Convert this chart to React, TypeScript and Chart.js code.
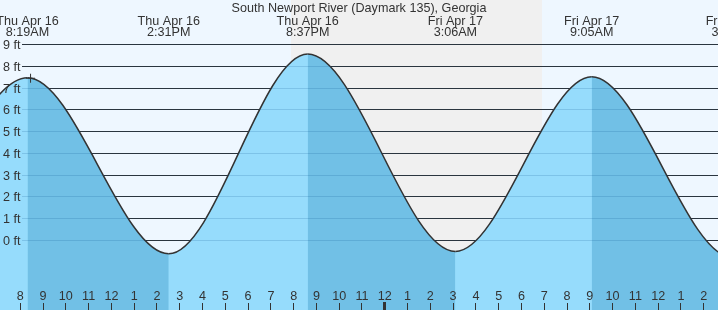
import React, { useEffect, useRef } from "react";
import { Chart, registerables } from "chart.js";

Chart.register(...registerables);

const W = 718;
const H = 310;

const TITLE = "South Newport River (Daymark 135), Georgia";

// Tide extremes, hours since Thu Apr 16 00:00 (first and last two are off-chart estimates)
const tideHours = [-4.2, 1.9, 8.317, 14.517, 20.617, 27.1, 33.083, 39.3, 45.5];
const tideFeet = [8.3, -0.45, 7.47, -0.61, 8.56, -0.5, 7.52, -0.8, 8.4];

// Labelled extremes along the top
const labelHours = [8.317, 14.517, 20.617, 27.1, 33.083, 39.3];
const labelDays = ["Thu Apr 16", "Thu Apr 16", "Thu Apr 16", "Fri Apr 17", "Fri Apr 17", "Fri Apr 17"];
const labelTimes = ["8:19AM", "2:31PM", "8:37PM", "3:06AM", "9:05AM", "3:18PM"];

// Current-time marker
const markerHours = [8.45];
const markerFeet = [7.45];

// Night (sunset Thu 7:52PM to sunrise Fri 6:53AM)
const nightStart = 19.87;
const nightEnd = 30.88;

// Axes
const yTickValues = [0, 1, 2, 3, 4, 5, 6, 7, 8, 9];
const yTickLabels = ["0 ft", "1 ft", "2 ft", "3 ft", "4 ft", "5 ft", "6 ft", "7 ft", "8 ft", "9 ft"];
const hourTickValues = [8, 9, 10, 11, 12, 13, 14, 15, 16, 17, 18, 19, 20, 21, 22, 23, 24, 25, 26, 27, 28, 29, 30, 31, 32, 33, 34, 35, 36, 37, 38];
const hourTickLabels = ["8", "9", "10", "11", "12", "1", "2", "3", "4", "5", "6", "7", "8", "9", "10", "11", "12", "1", "2", "3", "4", "5", "6", "7", "8", "9", "10", "11", "12", "1", "2"];
const midnightHours = [24];

const X_MIN = 7.1089;
const X_MAX = 38.628;
const Y_MIN = -3.191;
const Y_MAX = 11.042;

const DAY_BG = "#eef7ff";
const NIGHT_BG = "#f0f0f0";
const RISE = "#96dcfc";
const FALL = "#71c0e6";
const INK = "#333333";
const FONT = '12.6px "Liberation Sans", Arial, Helvetica, sans-serif';

const tidePlugin = {
  id: "tideDecor",
  beforeDraw(chart: any) {
    const { ctx, scales } = chart;
    const x = scales.x;
    ctx.save();
    ctx.fillStyle = DAY_BG;
    ctx.fillRect(0, 0, W, H);
    const x0 = x.getPixelForValue(nightStart);
    const x1 = x.getPixelForValue(nightEnd);
    ctx.fillStyle = NIGHT_BG;
    ctx.fillRect(Math.round(x0), 0, Math.round(x1) - Math.round(x0), H);
    ctx.restore();
  },
  beforeDatasetsDraw(chart: any) {
    const { ctx, scales } = chart;
    const y = scales.y;
    ctx.save();
    ctx.strokeStyle = INK;
    ctx.lineWidth = 1;
    for (const v of yTickValues) {
      const py = Math.floor(y.getPixelForValue(v)) + 0.5;
      ctx.beginPath();
      ctx.moveTo(22, py);
      ctx.lineTo(W, py);
      ctx.stroke();
    }
    ctx.restore();
  },
  afterDatasetsDraw(chart: any) {
    const { ctx, scales } = chart;
    const x = scales.x;
    const y = scales.y;
    ctx.save();
    // faint grid lines over the water fill
    ctx.strokeStyle = "rgba(0,70,130,0.16)";
    ctx.lineWidth = 1;
    for (const v of yTickValues) {
      const py = Math.floor(y.getPixelForValue(v)) + 0.5;
      ctx.beginPath();
      ctx.moveTo(22, py);
      ctx.lineTo(W, py);
      ctx.stroke();
    }
    ctx.font = FONT;
    ctx.fillStyle = INK;
    // y labels
    ctx.textAlign = "right";
    ctx.textBaseline = "alphabetic";
    yTickValues.forEach((v, i) => {
      const py = Math.floor(y.getPixelForValue(v)) + 0.5;
      ctx.fillText(yTickLabels[i], 20.5, py + 4.5);
    });
    // title
    ctx.textAlign = "center";
    ctx.fillText(TITLE, W / 2, 12);
    // extreme labels
    labelHours.forEach((h, i) => {
      const px = x.getPixelForValue(h);
      ctx.fillText(labelDays[i], px, 24.5);
      ctx.fillText(labelTimes[i], px, 36);
    });
    // hour ticks
    hourTickValues.forEach((h, i) => {
      const px = x.getPixelForValue(h);
      const col = Math.floor(px) + 0.5;
      ctx.fillStyle = INK;
      ctx.fillText(hourTickLabels[i], px, 300);
      ctx.strokeStyle = INK;
      if (midnightHours.includes(h)) {
        ctx.lineWidth = 3;
        ctx.beginPath();
        ctx.moveTo(col, 302);
        ctx.lineTo(col, H);
        ctx.stroke();
      } else {
        ctx.lineWidth = 1;
        ctx.beginPath();
        ctx.moveTo(col, 303);
        ctx.lineTo(col, H);
        ctx.stroke();
      }
    });
    ctx.restore();
  },
};

export default function App() {
  const ref = useRef<HTMLCanvasElement | null>(null);

  useEffect(() => {
    if (!ref.current) return;
    const tidePoints = tideHours.map((h, i) => ({ x: h, y: tideFeet[i] }));
    const chart = new Chart(ref.current, {
      type: "line",
      data: {
        datasets: [
          {
            type: "scatter",
            data: markerHours.map((h, i) => ({ x: h, y: markerFeet[i] })),
            pointStyle: "cross",
            pointRadius: 4.5,
            borderColor: INK,
            borderWidth: 1,
            backgroundColor: INK,
            showLine: false,
          } as any,
          {
            type: "line",
            data: tidePoints,
            borderColor: INK,
            borderWidth: 1.5,
            backgroundColor: RISE,
            fill: "start",
            pointRadius: 0,
            cubicInterpolationMode: "monotone",
            capBezierPoints: false,
            segment: {
              backgroundColor: (c: any) => (c.p1.parsed.y < c.p0.parsed.y ? FALL : RISE),
            },
          } as any,
          {
            // plain underlay fill so segment seams don't show the background
            type: "line",
            data: tidePoints,
            borderWidth: 0,
            borderColor: "rgba(0,0,0,0)",
            backgroundColor: RISE,
            fill: "start",
            pointRadius: 0,
            cubicInterpolationMode: "monotone",
            capBezierPoints: false,
          } as any,
        ],
      },
      options: {
        animation: false,
        responsive: false,
        devicePixelRatio: 1,
        layout: { padding: 0, autoPadding: false },
        events: [],
        elements: { line: { capBezierPoints: false } },
        plugins: {
          legend: { display: false },
          tooltip: { enabled: false },
          title: { display: false },
        },
        scales: {
          x: { type: "linear", min: X_MIN, max: X_MAX, display: false },
          y: { type: "linear", min: Y_MIN, max: Y_MAX, display: false },
        },
      } as any,
      plugins: [tidePlugin],
    });
    return () => chart.destroy();
  }, []);

  return (
    <div style={{ position: "absolute", left: 0, top: 0, width: W, height: H }}>
      <canvas ref={ref} width={W} height={H} style={{ display: "block", width: W, height: H }} />
    </div>
  );
}
